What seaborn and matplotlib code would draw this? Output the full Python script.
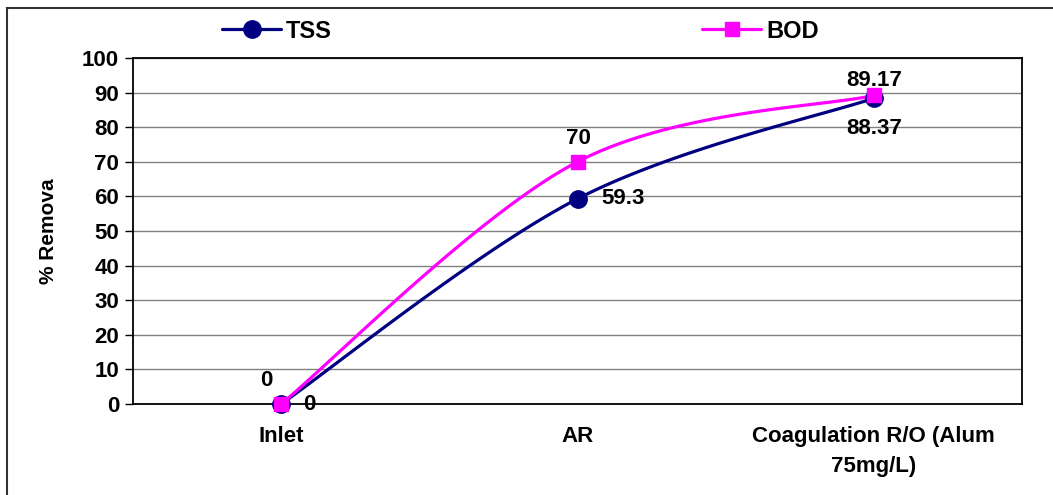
import numpy as np
import pandas as pd
import matplotlib
matplotlib.use("Agg")
import matplotlib.pyplot as plt
from matplotlib.lines import Line2D
from matplotlib.patches import Rectangle
import seaborn as sns

categories = ["Inlet", "AR", "Coagulation R/O (Alum\n75mg/L)"]
tss = [0, 59.3, 88.37]
bod = [0, 70, 89.17]
y_ticks = list(range(0, 101, 10))

TSS_COLOR = "#000080"
BOD_COLOR = "#FF00FF"


def smooth(xs, ys, n=40):
    # Excel-style smoothed line: cubic Bezier with 1/6 neighbour tangents
    pts = np.column_stack([xs, ys]).astype(float)
    ext = np.vstack([pts[:1], pts, pts[-1:]])
    out = []
    t = np.linspace(0, 1, n)[:, None]
    for i in range(len(pts) - 1):
        p0, p3 = ext[i + 1], ext[i + 2]
        c1 = p0 + (ext[i + 2] - ext[i]) / 6
        c2 = p3 - (ext[i + 3] - ext[i + 1]) / 6
        seg = ((1 - t) ** 3) * p0 + 3 * ((1 - t) ** 2) * t * c1 + 3 * (1 - t) * t ** 2 * c2 + t ** 3 * p3
        out.append(seg if i == 0 else seg[1:])
    seg = np.vstack(out)
    return seg[:, 0], seg[:, 1]


sns.set_style("white")
plt.rcParams["font.family"] = ["Liberation Sans", "DejaVu Sans"]
plt.rcParams["font.weight"] = "bold"
plt.rcParams["text.color"] = "black"
plt.rcParams["axes.labelcolor"] = "black"
plt.rcParams["xtick.color"] = "black"
plt.rcParams["ytick.color"] = "black"

FS = 16

fig = plt.figure(figsize=(10.53, 4.95), dpi=100)
ax = fig.add_axes([133 / 1053, 1 - 404 / 495, (1022 - 133) / 1053, (404 - 58) / 495])

x = np.arange(len(categories))
for vals, color, marker, ms in [(tss, TSS_COLOR, "o", 12.5), (bod, BOD_COLOR, "s", 10.5)]:
    sx, sy = smooth(x, vals)
    sns.lineplot(x=sx, y=sy, sort=False, estimator=None, color=color, linewidth=2.3, ax=ax, zorder=3)
    ax.plot(x, vals, linestyle="none", marker=marker, markersize=ms, color=color,
            markeredgecolor=color, zorder=4, clip_on=False)

# data labels
lab = dict(fontsize=FS, fontweight="bold", ha="center", va="center", textcoords="offset points", zorder=5)
ax.annotate("0", (0, tss[0]), xytext=(20, 0), **lab)
ax.annotate("59.3", (1, tss[1]), xytext=(33, 0), **lab)
ax.annotate("88.37", (2, tss[2]), xytext=(0, -22), **lab)
ax.annotate("0", (0, bod[0]), xytext=(-11, 17), **lab)
ax.annotate("70", (1, bod[1]), xytext=(1, 17), **lab)
ax.annotate("89.17", (2, bod[2]), xytext=(0, 11), **lab)

ax.set_xlim(-0.5, 2.5)
ax.set_ylim(0, 100)
ax.set_yticks(y_ticks)
ax.set_yticklabels([str(v) for v in y_ticks], fontsize=FS, fontweight="bold")
ax.set_xticks(x)
ax.set_xticklabels(categories, fontsize=FS, fontweight="bold", linespacing=1.55)
ax.set_xticks([-0.5, 0.5, 1.5, 2.5], minor=True)
ax.tick_params(axis="x", which="major", length=0, pad=16)
ax.tick_params(axis="x", which="minor", length=6, width=1, color="black", direction="out")
ax.tick_params(axis="y", length=6, width=1, color="black", direction="out", pad=4, left=True)
ax.yaxis.grid(True, color="#808080", linewidth=1)
ax.xaxis.grid(False)
ax.set_axisbelow(True)
for s in ax.spines.values():
    s.set_visible(True)
    s.set_color("black")
    s.set_linewidth(1.3)
ax.set_xlabel("")
ax.set_ylabel("% Remova", fontsize=15, fontweight="bold", labelpad=17)

handles = [
    Line2D([], [], color=TSS_COLOR, linewidth=2.3, marker="o", markersize=12.5),
    Line2D([], [], color=BOD_COLOR, linewidth=2.3, marker="s", markersize=10.5),
]
leg = fig.legend(handles, ["TSS", "BOD"], ncol=2, frameon=False, loc="center left",
                 bbox_to_anchor=(222 / 1053, 1 - 31 / 495), prop={"size": 17, "weight": "bold"},
                 handlelength=2.5, handletextpad=0.2, columnspacing=15.7, borderaxespad=0, borderpad=0)

fig.patches.append(Rectangle((7 / 1053, -0.05), 1.1, 1 - 8 / 495 + 0.05, transform=fig.transFigure,
                             fill=False, edgecolor="#333333", linewidth=1.5, zorder=0))

fig.savefig("out.png", dpi=100)
